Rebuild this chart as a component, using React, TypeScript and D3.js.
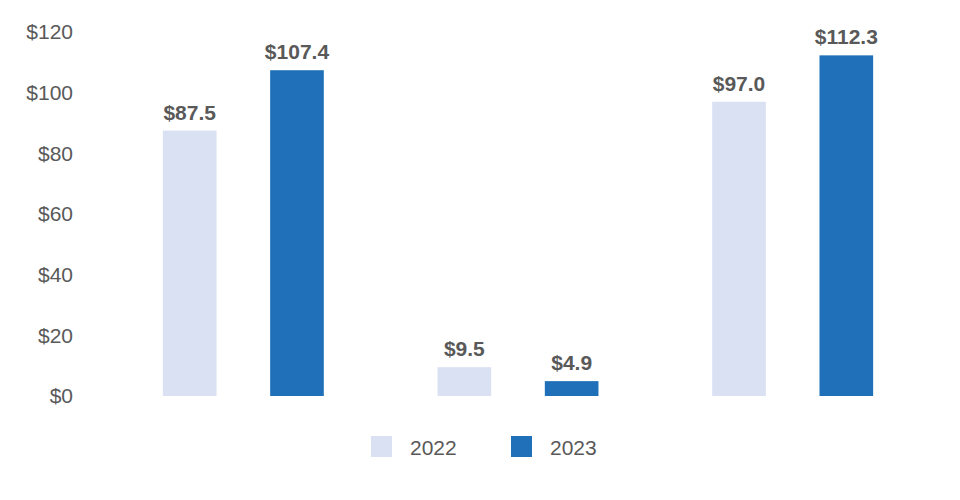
import * as d3 from 'd3';
import { useEffect, useRef } from 'react';

const width = 960;
const height = 500;

// data
const categories = ['A', 'B', 'C'];
const seriesNames = ['2022', '2023'];
const values2022 = [87.5, 9.5, 97.0];
const values2023 = [107.4, 4.9, 112.3];
const yTicks = [0, 20, 40, 60, 80, 100, 120];
const colors = ['#d9e1f2', '#1f70b8'];

const textColor = '#595959';
const font = 'Arial, "Liberation Sans", sans-serif';

export default function App() {
  const svgRef = useRef<SVGSVGElement>(null);

  useEffect(() => {
    if (!svgRef.current) return;
    const svg = d3.select(svgRef.current);
    svg.selectAll('*').remove();

    const y = d3.scaleLinear().domain([0, 120]).range([396, 32]);
    const x0 = d3.scaleBand<string>().domain(categories).range([106, 930]).padding(0);
    const x1 = d3
      .scaleBand<string>()
      .domain(seriesNames)
      .range([0, x0.bandwidth()])
      .paddingInner(0.5)
      .paddingOuter(0.53);

    // y tick labels (no axis line, no gridlines)
    svg
      .append('g')
      .selectAll('text')
      .data(yTicks)
      .join('text')
      .attr('x', 73)
      .attr('y', d => y(d))
      .attr('dy', '0.35em')
      .attr('text-anchor', 'end')
      .style('font-family', font)
      .style('font-size', '21px')
      .style('fill', textColor)
      .text(d => `$${d}`);

    const series = [values2022, values2023];
    const rows = categories.flatMap((c, i) =>
      seriesNames.map((s, j) => ({ cat: c, name: s, value: series[j][i], color: colors[j] }))
    );

    const g = svg.append('g');
    g.selectAll('rect')
      .data(rows)
      .join('rect')
      .attr('x', d => (x0(d.cat) ?? 0) + (x1(d.name) ?? 0))
      .attr('y', d => y(d.value))
      .attr('width', x1.bandwidth())
      .attr('height', d => y(0) - y(d.value))
      .attr('fill', d => d.color);

    g.selectAll('text.val')
      .data(rows)
      .join('text')
      .attr('class', 'val')
      .attr('x', d => (x0(d.cat) ?? 0) + (x1(d.name) ?? 0) + x1.bandwidth() / 2)
      .attr('y', d => y(d.value) - 11)
      .attr('text-anchor', 'middle')
      .style('font-family', font)
      .style('font-size', '21px')
      .style('font-weight', 'bold')
      .style('fill', textColor)
      .text(d => `$${d.value.toFixed(1)}`);

    // legend
    const legendX = [371, 511];
    const legend = svg
      .append('g')
      .selectAll('g')
      .data(seriesNames)
      .join('g')
      .attr('transform', (_, i) => `translate(${legendX[i]},436)`);
    legend
      .append('rect')
      .attr('width', 21)
      .attr('height', 21)
      .attr('fill', (_, i) => colors[i]);
    legend
      .append('text')
      .attr('x', 39)
      .attr('y', 19)
      .style('font-family', font)
      .style('font-size', '21px')
      .style('fill', textColor)
      .text(d => d);
  }, []);

  return (
    <svg
      ref={svgRef}
      width={width}
      height={height}
      style={{ position: 'absolute', left: 0, top: 0, background: '#fff' }}
    />
  );
}
